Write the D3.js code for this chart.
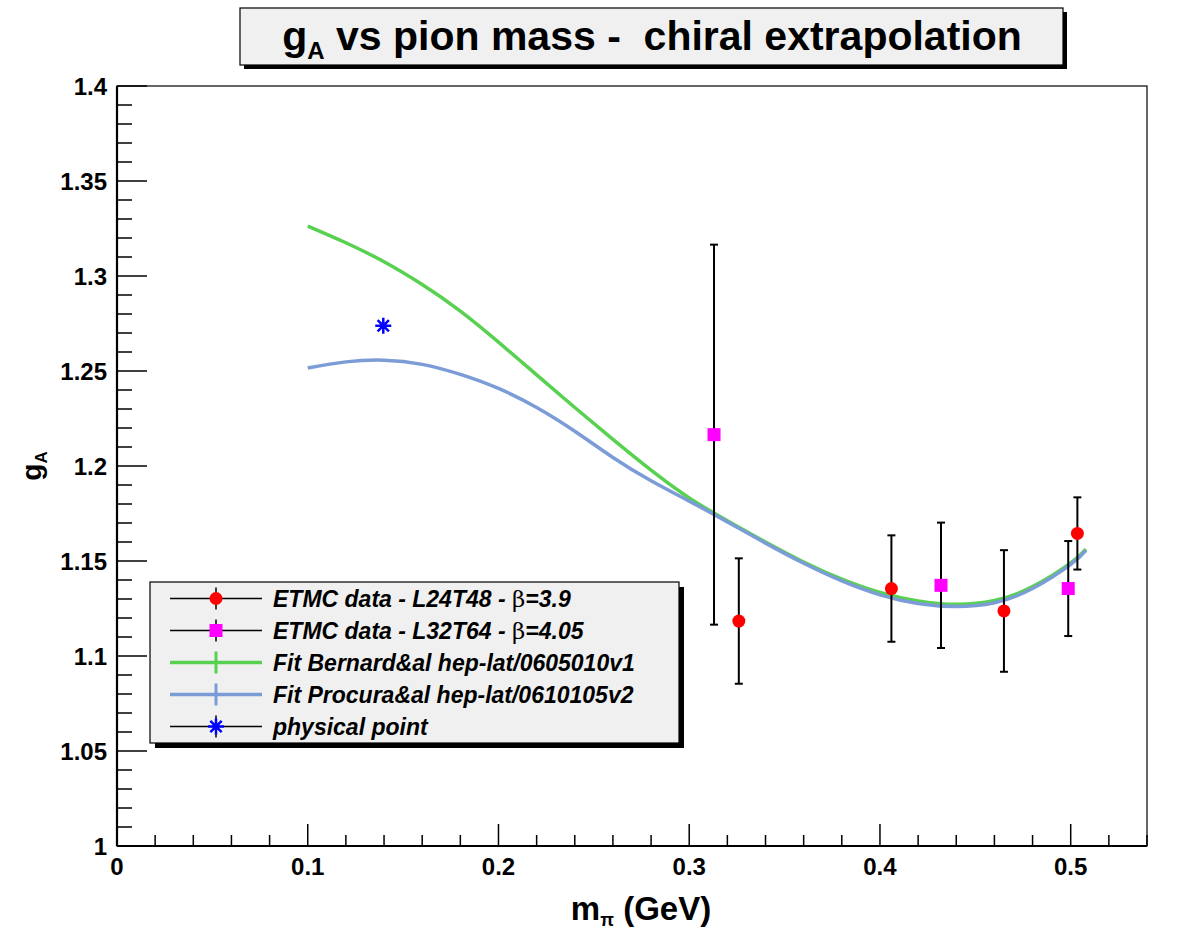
<!DOCTYPE html>
<html>
<head>
<meta charset="utf-8">
<script src="https://cdn.jsdelivr.net/npm/d3@7"></script>
<style>
  body { margin: 0; background: #fff; }
  text { font-family: "Liberation Sans", Arial, sans-serif; }
</style>
</head>
<body>
<div id="chart"></div>
<script>
const width = 1181;
const height = 931;

// data
const redMass = [0.326, 0.406, 0.465, 0.5035];
const redGA = [1.1184, 1.1355, 1.1237, 1.1645];
const redErr = [0.033, 0.028, 0.032, 0.019];

const magMass = [0.313, 0.432, 0.4987];
const magGA = [1.2165, 1.1372, 1.1355];
const magErr = [0.100, 0.033, 0.025];

const physMass = [0.1396];
const physGA = [1.2738];

const fitMass = [0.10, 0.12, 0.14, 0.16, 0.18, 0.20, 0.22, 0.24, 0.26, 0.28, 0.30,
  0.32, 0.34, 0.36, 0.38, 0.40, 0.42, 0.44, 0.46, 0.48, 0.50, 0.508];
const bernardGA = [1.3263, 1.3175, 1.3075, 1.2955, 1.2815, 1.2652, 1.2480, 1.2308, 1.2140, 1.1978, 1.1832,
  1.1712, 1.1600, 1.1495, 1.1405, 1.1335, 1.1290, 1.1272, 1.1292, 1.1365, 1.1490, 1.1562];
const procuraGA = [1.2516, 1.2548, 1.2557, 1.2535, 1.2482, 1.2408, 1.2308, 1.2183, 1.2045, 1.1922, 1.1815,
  1.1706, 1.1594, 1.1488, 1.1395, 1.1322, 1.1276, 1.1260, 1.1280, 1.1355, 1.1482, 1.1556];

const legendLabels = [
  "ETMC data - L24T48 - ",
  "ETMC data - L32T64 - ",
  "Fit Bernard&al hep-lat/0605010v1",
  "Fit Procura&al hep-lat/0610105v2",
  "physical point"
];
const legendBeta = ["=3.9", "=4.05"];

const green = "#58d150";
const blue = "#7b9cd6";

const svg = d3.select("#chart").append("svg")
  .attr("width", width)
  .attr("height", height);

const x = d3.scaleLinear().domain([0, 0.54]).range([117, 1147]);
const y = d3.scaleLinear().domain([1, 1.4]).range([846, 86]);

// frame
svg.append("rect")
  .attr("x", x(0)).attr("y", y(1.4))
  .attr("width", x(0.54) - x(0)).attr("height", y(1) - y(1.4))
  .attr("fill", "none").attr("stroke", "#000").attr("stroke-width", 1.2);

// y ticks
const yMinor = d3.range(0, 41).map(i => 1 + i * 0.01);
svg.append("g").selectAll("line")
  .data(yMinor)
  .join("line")
  .attr("x1", x(0))
  .attr("x2", (d, i) => x(0) + (i % 5 === 0 ? 30 : 15))
  .attr("y1", d => y(d)).attr("y2", d => y(d))
  .attr("stroke", "#000").attr("stroke-width", 1.5);

const yMajor = d3.range(0, 9).map(i => 1 + i * 0.05);
svg.append("g").selectAll("text")
  .data(yMajor)
  .join("text")
  .attr("x", 107)
  .attr("y", d => y(d) + 8.5)
  .attr("text-anchor", "end")
  .attr("font-size", 24)
  .attr("font-weight", "bold")
  .text(d => d3.format("~g")(+d.toFixed(2)));

// x ticks
const xMinor = d3.range(0, 28).map(i => i * 0.02);
svg.append("g").selectAll("line")
  .data(xMinor)
  .join("line")
  .attr("x1", d => x(d)).attr("x2", d => x(d))
  .attr("y1", y(1))
  .attr("y2", (d, i) => y(1) - (i % 5 === 0 ? 22 : 11))
  .attr("stroke", "#000").attr("stroke-width", 1.5);

const xMajor = [0, 0.1, 0.2, 0.3, 0.4, 0.5];
svg.append("g").selectAll("text")
  .data(xMajor)
  .join("text")
  .attr("x", d => x(d))
  .attr("y", 875)
  .attr("text-anchor", "middle")
  .attr("font-size", 24)
  .attr("font-weight", "bold")
  .text(d => d3.format("~g")(d));

// axis lines (bold)
svg.append("line")
  .attr("x1", x(0)).attr("x2", x(0.54)).attr("y1", y(1)).attr("y2", y(1))
  .attr("stroke", "#000").attr("stroke-width", 2.2);
svg.append("line")
  .attr("x1", x(0)).attr("x2", x(0)).attr("y1", y(1)).attr("y2", y(1.4))
  .attr("stroke", "#000").attr("stroke-width", 2.2);

// axis titles
const xt = svg.append("text")
  .attr("x", 641).attr("y", 920)
  .attr("text-anchor", "middle")
  .attr("font-size", 33).attr("font-weight", "bold");
xt.append("tspan").text("m");
xt.append("tspan").attr("font-size", 18).attr("dy", 6).text("π");
xt.append("tspan").attr("dy", -6).text(" (GeV)");

const yt = svg.append("text")
  .attr("transform", "translate(41,466) rotate(-90)")
  .attr("text-anchor", "middle")
  .attr("font-size", 28).attr("font-weight", "bold");
yt.append("tspan").text("g");
yt.append("tspan").attr("font-size", 17).attr("dy", 6).text("A");

// fit curves
const line = d3.line().curve(d3.curveNatural);
svg.append("path")
  .attr("d", line(fitMass.map((m, i) => [x(m), y(bernardGA[i])])))
  .attr("fill", "none").attr("stroke", green).attr("stroke-width", 3.5);
svg.append("path")
  .attr("d", line(fitMass.map((m, i) => [x(m), y(procuraGA[i])])))
  .attr("fill", "none").attr("stroke", blue).attr("stroke-width", 3.5);

// error bars
function errorBars(ms, gs, es) {
  const g = svg.append("g").attr("stroke", "#000").attr("stroke-width", 2);
  ms.forEach((m, i) => {
    const cx = x(m);
    g.append("line").attr("x1", cx).attr("x2", cx)
      .attr("y1", y(gs[i] - es[i])).attr("y2", y(gs[i] + es[i]));
    [gs[i] - es[i], gs[i] + es[i]].forEach(v => {
      g.append("line").attr("x1", cx - 4).attr("x2", cx + 4)
        .attr("y1", y(v)).attr("y2", y(v));
    });
  });
}
errorBars(redMass, redGA, redErr);
errorBars(magMass, magGA, magErr);

svg.append("g").selectAll("circle")
  .data(redMass)
  .join("circle")
  .attr("cx", d => x(d))
  .attr("cy", (d, i) => y(redGA[i]))
  .attr("r", 6.5)
  .attr("fill", "#ff0000");

svg.append("g").selectAll("rect")
  .data(magMass)
  .join("rect")
  .attr("x", d => x(d) - 6.5)
  .attr("y", (d, i) => y(magGA[i]) - 6.5)
  .attr("width", 13).attr("height", 13)
  .attr("fill", "#ff00ff");

function asterisk(g, cx, cy, r) {
  const s = r * Math.SQRT1_2;
  g.append("path")
    .attr("d", `M${cx - r},${cy}L${cx + r},${cy}M${cx},${cy - r}L${cx},${cy + r}` +
      `M${cx - s},${cy - s}L${cx + s},${cy + s}M${cx - s},${cy + s}L${cx + s},${cy - s}`)
    .attr("stroke", "#0000ff").attr("stroke-width", 2.5).attr("fill", "none");
}
physMass.forEach((m, i) => asterisk(svg, x(m), y(physGA[i]), 8));

// legend
const lg = svg.append("g");
lg.append("rect")
  .attr("x", 155).attr("y", 587).attr("width", 529).attr("height", 161)
  .attr("fill", "#000");
lg.append("rect")
  .attr("x", 150).attr("y", 582).attr("width", 529).attr("height", 161)
  .attr("fill", "#f0f0f0").attr("stroke", "#000").attr("stroke-width", 1.2);

const rowY = [598.5, 630.5, 662.5, 694.5, 726.5];
const lx1 = 170, lx2 = 262, lmx = 216;
rowY.forEach((ry, i) => {
  const col = i === 2 ? green : i === 3 ? blue : "#000";
  const sw = i === 2 || i === 3 ? 3.5 : 1.5;
  lg.append("line").attr("x1", lx1).attr("x2", lx2).attr("y1", ry).attr("y2", ry)
    .attr("stroke", col).attr("stroke-width", sw);
  lg.append("line").attr("x1", lmx).attr("x2", lmx).attr("y1", ry - 11).attr("y2", ry + 11)
    .attr("stroke", col).attr("stroke-width", i === 2 || i === 3 ? 3 : 1.5);
  if (i === 0) lg.append("circle").attr("cx", lmx).attr("cy", ry).attr("r", 6.5).attr("fill", "#ff0000");
  if (i === 1) lg.append("rect").attr("x", lmx - 6.5).attr("y", ry - 6.5).attr("width", 13).attr("height", 13).attr("fill", "#ff00ff");
  if (i === 4) asterisk(lg, lmx, ry, 8);

  const t = lg.append("text")
    .attr("x", 273).attr("y", ry + 8)
    .attr("font-size", 23).attr("font-weight", "bold").attr("font-style", "italic");
  t.append("tspan").text(legendLabels[i]);
  if (i < 2) {
    t.append("tspan").attr("font-family", "'DejaVu Serif', 'Liberation Serif', serif")
      .attr("font-weight", "normal").attr("font-style", "normal").text("β");
    t.append("tspan").text(legendBeta[i]);
  }
});

// title box
svg.append("rect")
  .attr("x", 244).attr("y", 12).attr("width", 823).attr("height", 57)
  .attr("fill", "#000");
svg.append("rect")
  .attr("x", 240).attr("y", 8).attr("width", 823).attr("height", 57)
  .attr("fill", "#f0f0f0").attr("stroke", "#000").attr("stroke-width", 1.2);
const tt = svg.append("text")
  .attr("x", 652).attr("y", 50)
  .attr("text-anchor", "middle")
  .attr("font-size", 41).attr("font-weight", "bold")
  .style("white-space", "pre");
tt.append("tspan").text("g");
tt.append("tspan").attr("font-size", 24).attr("dy", 9).text("A");
tt.append("tspan").attr("dy", -9).text(" vs pion mass -  chiral extrapolation");
</script>
</body>
</html>
